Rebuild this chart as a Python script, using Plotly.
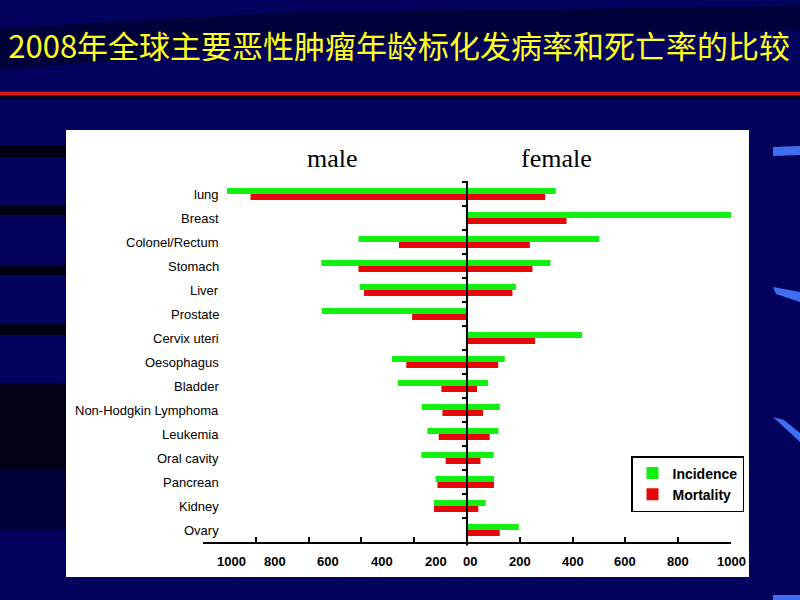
import plotly.graph_objects as go

# ---------------- data ----------------
categories = ["lung", "Breast", "Colonel/Rectum", "Stomach", "Liver", "Prostate",
              "Cervix uteri", "Oesophagus", "Bladder", "Non-Hodgkin Lymphoma",
              "Leukemia", "Oral cavity", "Pancrean", "Kidney", "Ovary"]
male_incidence = [909, 0, 411, 552, 407, 550, 0, 284, 262, 171, 150, 173, 119, 125, 0]
male_mortality = [820, 0, 258, 411, 390, 208, 0, 230, 97, 93, 107, 81, 112, 125, 0]
female_incidence = [336, 1000, 501, 316, 185, 0, 436, 143, 80, 124, 119, 101, 102, 71, 196]
female_mortality = [296, 377, 238, 248, 172, 0, 258, 118, 38, 61, 86, 51, 102, 43, 124]

tick_marks = [-1000, -800, -600, -400, -200, 0, 200, 400, 600, 800, 1000]
# tick label positions (left labels appear shifted in the original)
tick_label_pos = [-893, -726, -527, -323, -116, 10, 200, 400, 600, 800, 1000]
tick_label_text = ["1000", "800", "600", "400", "200", "00", "200", "400", "600", "800", "1000"]

side_labels = ["male", "female"]
title_text = "2008年全球主要恶性肿瘤年龄标化发病率和死亡率的比较"

GREEN = "#12F012"
RED = "#E50808"

# ---------------- geometry helpers (decorations only) ----------------
W, H = 800, 600
ML, MR, MT, MB = 203, 69, 182, 58
PW, PH = W - ML - MR, H - MT - MB


def px(x):
    return (x - ML) / PW


def py(y):
    return (H - MB - y) / PH


fig = go.Figure()

fig.add_trace(go.Bar(y=categories, x=[-v for v in male_incidence], orientation="h",
                     name="Incidence", marker_color=GREEN, offsetgroup="inc",
                     legendgroup="inc", showlegend=True, marker_line_width=0))
fig.add_trace(go.Bar(y=categories, x=[-v for v in male_mortality], orientation="h",
                     name="Mortality", marker_color=RED, offsetgroup="mort",
                     legendgroup="mort", showlegend=True, marker_line_width=0))
fig.add_trace(go.Bar(y=categories, x=female_incidence, orientation="h",
                     name="Incidence", marker_color=GREEN, offsetgroup="inc",
                     legendgroup="inc", showlegend=False, marker_line_width=0))
fig.add_trace(go.Bar(y=categories, x=female_mortality, orientation="h",
                     name="Mortality", marker_color=RED, offsetgroup="mort",
                     legendgroup="mort", showlegend=False, marker_line_width=0))

shapes = []
# white chart panel
shapes.append(dict(type="rect", xref="paper", yref="paper", x0=px(66), x1=px(749),
                   y0=py(577), y1=py(130), fillcolor="white", line_width=0, layer="below"))
# dark swoosh behind title area
shapes.append(dict(type="path", xref="paper", yref="paper",
                   path=f"M {px(0)},{py(28)} L {px(300)},{py(12)} L {px(800)},{py(6)} L {px(800)},{py(30)} "
                        f"L {px(300)},{py(45)} L {px(0)},{py(70)} Z",
                   fillcolor="rgba(0,0,15,0.45)", line_width=0, layer="below"))
# red rule under title and its shadow
shapes.append(dict(type="line", xref="paper", yref="paper", x0=px(0), x1=px(800),
                   y0=py(97), y1=py(97), line=dict(color="rgba(0,0,0,0.7)", width=3), layer="below"))
shapes.append(dict(type="line", xref="paper", yref="paper", x0=px(0), x1=px(800),
                   y0=py(93.5), y1=py(93.5), line=dict(color="#E0141C", width=3.5), layer="below"))
# left dark stripes
for y0, y1 in [(146, 157), (205, 215), (265, 275), (324, 335)]:
    shapes.append(dict(type="rect", xref="paper", yref="paper", x0=px(0), x1=px(66),
                       y0=py(y1), y1=py(y0), fillcolor="rgba(0,0,8,0.85)", line_width=0, layer="below"))
shapes.append(dict(type="rect", xref="paper", yref="paper", x0=px(0), x1=px(66),
                   y0=py(470), y1=py(383), fillcolor="rgba(0,0,10,0.85)", line_width=0, layer="below"))
shapes.append(dict(type="rect", xref="paper", yref="paper", x0=px(0), x1=px(66),
                   y0=py(530), y1=py(470), fillcolor="rgba(0,0,10,0.45)", line_width=0, layer="below"))
# right blue marks
shapes.append(dict(type="path", xref="paper", yref="paper",
                   path=f"M {px(773)},{py(147)} L {px(800)},{py(146)} L {px(800)},{py(155)} L {px(773)},{py(156)} Z",
                   fillcolor="#3F6EF2", line_width=0, layer="below"))
shapes.append(dict(type="path", xref="paper", yref="paper",
                   path=f"M {px(773)},{py(287)} L {px(800)},{py(292)} L {px(800)},{py(302)} L {px(776)},{py(294)} Z",
                   fillcolor="#3F6EF2", line_width=0, layer="below"))
shapes.append(dict(type="path", xref="paper", yref="paper",
                   path=f"M {px(773)},{py(417)} L {px(784)},{py(420)} L {px(800)},{py(433)} L {px(800)},{py(442)} Z",
                   fillcolor="#3F6EF2", line_width=0, layer="below"))
shapes.append(dict(type="rect", xref="paper", yref="paper", x0=px(773), x1=px(800),
                   y0=py(600), y1=py(595), fillcolor="#3F6EF2", line_width=0, layer="below"))
# central vertical axis line at x = 0
shapes.append(dict(type="line", xref="x", yref="paper", x0=0, x1=0, y0=-0.01, y1=1.003,
                   line=dict(color="black", width=2), layer="above"))

annotations = []
for c in categories:
    annotations.append(dict(x=px(221), xref="paper", y=c, yref="y", text=c, showarrow=False,
                            xanchor="right", yanchor="middle",
                            font=dict(family="Liberation Sans, Arial", size=13, color="black")))
for v, t in zip(tick_label_pos, tick_label_text):
    annotations.append(dict(x=v, xref="x", y=py(561), yref="paper", text="<b>" + t + "</b>",
                            showarrow=False, xanchor="center", yanchor="middle",
                            font=dict(family="Liberation Sans, Arial", size=13, color="black")))
for lab, cx in zip(side_labels, [332.5, 556.5]):
    annotations.append(dict(x=px(cx), xref="paper", y=py(158), yref="paper", text=lab,
                            showarrow=False, xanchor="center", yanchor="middle",
                            font=dict(family="Liberation Serif, Times New Roman", size=26, color="black")))

fig.update_layout(
    width=W, height=H, autosize=False,
    margin=dict(l=ML, r=MR, t=MT, b=MB, pad=0),
    paper_bgcolor="#03035E",
    plot_bgcolor="white",
    barmode="group", bargap=0.5, bargroupgap=0,
    title=dict(text=title_text, x=0.499, xanchor="center", xref="container",
               y=1 - 47 / H, yanchor="middle", yref="container",
               font=dict(family="Noto Sans CJK SC", size=31, color="#FFFF22")),
    xaxis=dict(range=[-1000, 1000], tickmode="array", tickvals=tick_marks, ticks="inside",
               ticklen=5, tickwidth=1.5, tickcolor="black", showticklabels=False,
               showline=True, linecolor="black", linewidth=1.5, showgrid=False,
               zeroline=False, layer="above traces", fixedrange=True),
    yaxis=dict(type="category", categoryorder="array", categoryarray=categories,
               range=[len(categories) - 0.5, -0.5], showticklabels=False, ticks="outside",
               tickson="boundaries", ticklen=5, tickwidth=1.5, tickcolor="black",
               anchor="free", position=0.5, showline=False, showgrid=False, zeroline=False,
               layer="above traces", fixedrange=True),
    legend=dict(x=px(744), xanchor="right", y=py(456), yanchor="top",
                bgcolor="white", bordercolor="black", borderwidth=1.5,
                font=dict(family="Liberation Sans, Arial", size=14, color="black", weight="bold"),
                traceorder="normal", itemwidth=30),
    shapes=shapes,
    annotations=annotations,
    showlegend=True,
)

fig.write_html("out.html")
